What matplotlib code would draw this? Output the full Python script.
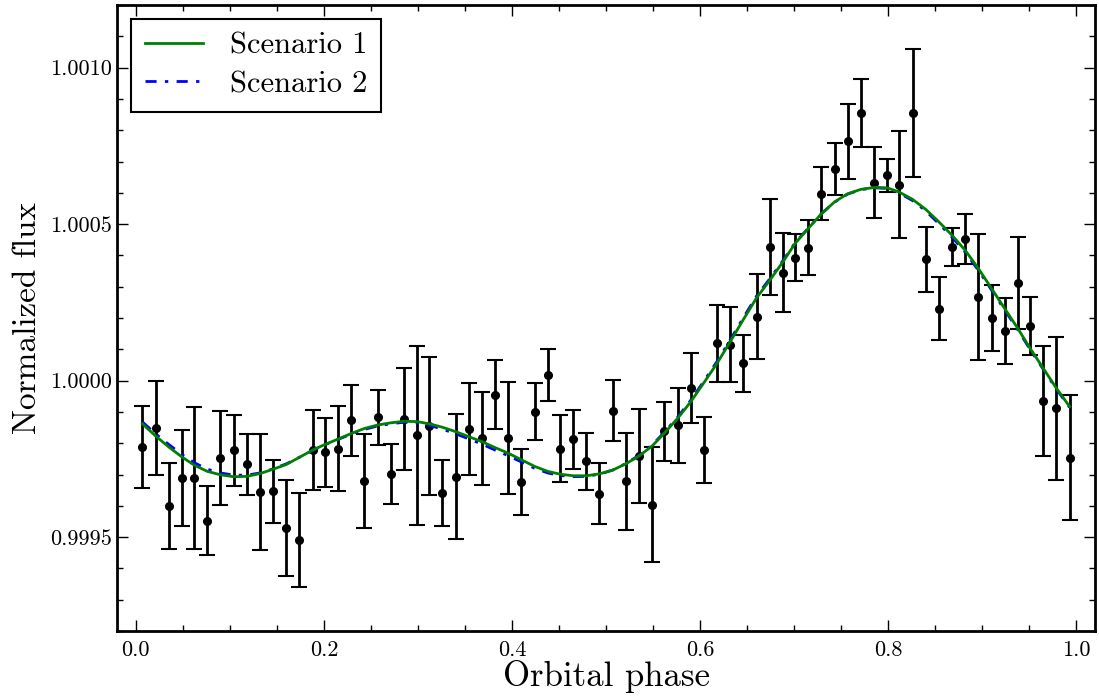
import numpy as np
import matplotlib
matplotlib.use("Agg")
import matplotlib.pyplot as plt
from matplotlib.ticker import FormatStrFormatter, MultipleLocator

plt.rcParams["font.family"] = "cmr10"
plt.rcParams["mathtext.fontset"] = "cm"
plt.rcParams["axes.formatter.use_mathtext"] = True

# orbital phase of each bin (72 bins)
phase = [0.007, 0.021, 0.035, 0.049, 0.062, 0.076, 0.090, 0.104, 0.118, 0.132,
         0.146, 0.160, 0.174, 0.188, 0.201, 0.215, 0.229, 0.243, 0.257, 0.271,
         0.285, 0.299, 0.312, 0.326, 0.340, 0.354, 0.368, 0.382, 0.396, 0.410,
         0.424, 0.438, 0.451, 0.465, 0.479, 0.493, 0.507, 0.521, 0.535, 0.549,
         0.562, 0.576, 0.590, 0.604, 0.618, 0.632, 0.646, 0.660, 0.674, 0.688,
         0.701, 0.715, 0.729, 0.743, 0.757, 0.771, 0.785, 0.799, 0.812, 0.826,
         0.840, 0.854, 0.868, 0.882, 0.896, 0.910, 0.924, 0.938, 0.951, 0.965,
         0.979, 0.993]

# binned flux, offset from 1 in units of 1e-4
flux_off = [-2.12, -1.51, -4.00, -3.11, -3.11, -4.47, -2.47, -2.23, -2.68, -3.56,
            -3.54, -4.72, -5.10, -2.23, -2.29, -2.17, -1.27, -3.20, -1.17, -2.97,
            -1.24, -1.75, -1.44, -3.59, -3.07, -1.54, -1.84, -0.45, -1.83, -3.23,
            -0.99, 0.18, -2.17, -1.88, -2.58, -3.61, -0.96, -3.22, -2.41, -3.96,
            -1.62, -1.43, -0.24, -2.21, 1.19, 1.14, 0.55, 2.04, 4.27, 3.44,
            3.93, 4.25, 5.97, 6.77, 7.65, 8.56, 6.32, 6.56, 6.26, 8.56,
            3.87, 2.30, 4.27, 4.52, 2.67, 2.00, 1.59, 3.13, 1.75, -0.65,
            -0.89, -2.46]

flux_err = [1.32, 1.51, 1.38, 1.53, 2.28, 1.10, 1.50, 1.13, 0.97, 1.85,
            1.00, 1.53, 1.50, 1.28, 1.10, 1.37, 1.13, 1.50, 0.88, 0.96,
            1.63, 2.85, 2.20, 1.05, 2.00, 1.46, 1.49, 1.10, 1.78, 1.06,
            0.92, 0.82, 1.06, 0.93, 0.90, 0.98, 0.98, 1.55, 1.49, 1.85,
            0.94, 1.20, 1.13, 1.05, 1.22, 1.20, 0.91, 1.36, 1.53, 1.26,
            0.76, 0.88, 0.84, 0.83, 1.20, 1.09, 1.14, 0.52, 1.70, 2.05,
            1.04, 1.00, 0.62, 0.80, 2.00, 1.05, 1.06, 1.47, 0.93, 1.76,
            2.27, 2.00]

# model curves at the same phases (offset in 1e-4)
model_s1 = [-1.38, -1.77, -2.12, -2.44, -2.70, -2.90, -3.01, -3.07, -3.06, -2.97,
            -2.83, -2.68, -2.45, -2.22, -2.04, -1.87, -1.69, -1.53, -1.42, -1.35,
            -1.30, -1.31, -1.38, -1.49, -1.63, -1.79, -1.95, -2.14, -2.32, -2.53,
            -2.74, -2.90, -2.99, -3.04, -3.04, -2.98, -2.86, -2.66, -2.41, -2.09,
            -1.68, -1.21, -0.68, -0.07, 0.55, 1.24, 1.95, 2.64, 3.20, 3.79,
            4.38, 4.86, 5.33, 5.71, 5.97, 6.11, 6.17, 6.16, 6.02, 5.79,
            5.47, 5.07, 4.64, 4.16, 3.58, 2.94, 2.30, 1.66, 1.03, 0.39,
            -0.25, -0.83]

model_s2 = [-1.32, -1.70, -2.04, -2.36, -2.62, -2.83, -2.95, -3.02, -3.02, -2.95,
            -2.82, -2.66, -2.45, -2.23, -2.05, -1.88, -1.71, -1.56, -1.45, -1.38,
            -1.33, -1.35, -1.43, -1.55, -1.70, -1.86, -2.03, -2.22, -2.40, -2.60,
            -2.80, -2.95, -3.03, -3.07, -3.06, -2.99, -2.86, -2.65, -2.39, -2.06,
            -1.65, -1.17, -0.63, -0.02, 0.61, 1.30, 2.01, 2.70, 3.25, 3.83,
            4.40, 4.87, 5.33, 5.70, 5.96, 6.10, 6.16, 6.14, 5.99, 5.75,
            5.42, 5.01, 4.58, 4.10, 3.52, 2.89, 2.25, 1.62, 0.99, 0.36,
            -0.28, -0.86]

flux = 1 + np.array(flux_off) * 1e-4
err = np.array(flux_err) * 1e-4
m1 = 1 + np.array(model_s1) * 1e-4
m2 = 1 + np.array(model_s2) * 1e-4

fig = plt.figure(figsize=(10.99, 6.97), dpi=100)
ax = fig.add_axes([0.1065, 0.0947, 0.8899, 0.8981])

ax.errorbar(phase, flux, yerr=err, fmt="o", color="k", ms=5.5,
            elinewidth=2, capsize=6, capthick=1.5, zorder=2)
ax.plot(phase, m2, color="#0000ff", lw=2, dashes=(4, 3, 1.2, 3),
        label="Scenario 2", zorder=3)
ax.plot(phase, m1, "-", color="#008000", lw=2, label="Scenario 1", zorder=4)

ax.set_xlim(-0.02, 1.02)
ax.set_ylim(0.9992, 1.0012)
ax.xaxis.set_major_locator(MultipleLocator(0.2))
ax.xaxis.set_minor_locator(MultipleLocator(0.05))
ax.yaxis.set_major_locator(MultipleLocator(0.0005))
ax.yaxis.set_minor_locator(MultipleLocator(0.0001))
ax.xaxis.set_major_formatter(FormatStrFormatter("%.1f"))
ax.yaxis.set_major_formatter(FormatStrFormatter("%.4f"))
ax.tick_params(which="both", direction="in", top=True, right=True, labelsize=16)
ax.tick_params(which="major", length=8, width=1)
ax.tick_params(which="minor", length=4, width=1)
ax.tick_params(axis="x", pad=7)
for s in ax.spines.values():
    s.set_linewidth(2)

ax.set_xlabel("Orbital phase", fontsize=25, labelpad=0)
ax.set_ylabel("Normalized flux", fontsize=24, labelpad=6)

handles, labels = ax.get_legend_handles_labels()
leg = ax.legend(handles[::-1], labels[::-1], loc="upper left", fontsize=22,
                fancybox=False, framealpha=1, edgecolor="k",
                handlelength=1.9, handletextpad=0.9, borderpad=0.45,
                labelspacing=0.35, borderaxespad=0.45)
leg.get_frame().set_linewidth(1.5)

fig.savefig("out.png", dpi=100)
